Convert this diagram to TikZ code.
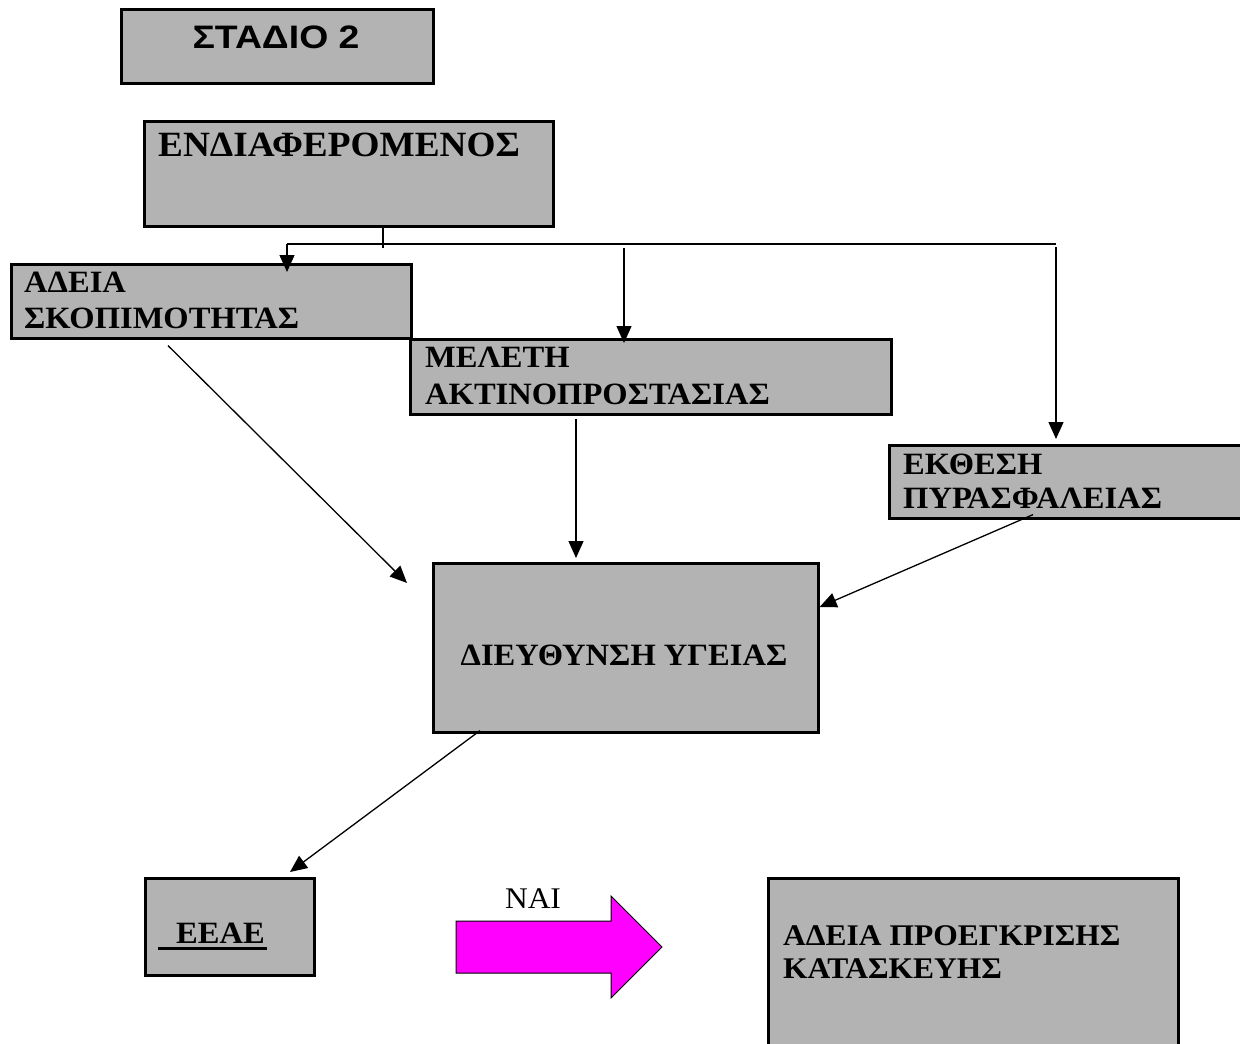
\documentclass[tikz,border=0pt]{standalone}
\usepackage{fontspec}
\setmainfont{Liberation Serif}[FakeStretch=1.05]
\newfontfamily\arialfont{Liberation Sans}[FakeStretch=1.15]
\usepackage{tikz}
\usetikzlibrary{arrows.meta,positioning,calc}
\definecolor{boxgray}{RGB}{179,179,179}
\definecolor{yesmagenta}{RGB}{255,0,255}
\newcommand{\thickul}[1]{\setbox0\hbox{#1}\rlap{\rule[-7pt]{\wd0}{3pt}}\box0}

\begin{document}
\begin{tikzpicture}[x=1pt, y=-1pt,
    box/.style={draw, line width=2.6pt, fill=boxgray, inner sep=0pt, anchor=north west},
    lbl/.style={font=\bfseries\fontsize{31}{36}\selectfont, inner sep=0pt, align=left, anchor=base west},
    arr/.style={-{Triangle[length=17pt,width=15pt]}, line width=1.3pt},
    line/.style={line width=1.3pt}]
    \useasboundingbox (0,0) rectangle (1240,1044);

    % Stage title
    \node[box, minimum width=312pt, minimum height=74pt] (stage) at (120,8) {};
    \node[font=\arialfont\bfseries\fontsize{32.5}{38}\selectfont, inner sep=0pt, anchor=base] (stagetxt) at (276,48) {ΣΤΑΔΙΟ 2};

    % Applicant
    \node[box, minimum width=409pt, minimum height=105pt] (applicant) at (143,120) {};
    \node[lbl, font=\bfseries\fontsize{35.5}{40}\selectfont] (applicanttxt) at (158,156) {ΕΝΔΙΑΦΕΡΟΜΕΝΟΣ};

    % Level 1 - documents (anchor on last baseline)
    \node[box, minimum width=400pt, minimum height=74pt] (purpose) at (10,263) {};
    \node[lbl, font=\bfseries\fontsize{31}{36}\selectfont] (purposetxt) at (24,328) {ΑΔΕΙΑ\\ΣΚΟΠΙΜΟΤΗΤΑΣ};

    \node[box, minimum width=481pt, minimum height=75pt] (study) at (409,338) {};
    \node[lbl, font=\bfseries\fontsize{31}{37}\selectfont] (studytxt) at (425,404) {ΜΕΛΕΤΗ\\ΑΚΤΙΝΟΠΡΟΣΤΑΣΙΑΣ};

    \node[box, minimum width=380pt, minimum height=73pt] (fire) at (888,444) {};
    \node[lbl, font=\bfseries\fontsize{31}{34}\selectfont] (firetxt) at (903,508) {ΕΚΘΕΣΗ\\ΠΥΡΑΣΦΑΛΕΙΑΣ};

    % Level 2 - health directorate
    \node[box, minimum width=385pt, minimum height=169pt] (health) at (432,562) {};
    \node[lbl, anchor=base] (healthtxt) at (624,665) {ΔΙΕΥΘΥΝΣΗ ΥΓΕΙΑΣ};

    % Level 3
    \node[box, minimum width=169pt, minimum height=97pt] (eeae) at (144,877) {};
    \node[lbl] (eeaetxt) at (158,943) {\thickul{\hspace{18pt}ΕΕΑΕ\hspace{2pt}}};

    \node[box, minimum width=410pt, minimum height=200pt] (permit) at (767,877) {};
    \node[lbl, font=\bfseries\fontsize{30}{33}\selectfont] (permittxt) at (783,978) {ΑΔΕΙΑ ΠΡΟΕΓΚΡΙΣΗΣ\\ΚΑΤΑΣΚΕΥΗΣ};

    % Distribution line
    \coordinate (stub) at (383,248);
    \coordinate (busW) at (287,244);
    \coordinate (busE) at (1056,244);
    \coordinate (busM) at (624,248);
    \draw[line] (stub |- applicant.south) -- (stub);
    \draw[line] (busW) -- (busE);
    \draw[arr, shorten >=-9pt] (busW) -- (busW |- purpose.north);
    \draw[arr, shorten >=-5pt] (busM) -- (busM |- study.north);
    \draw[arr, shorten >=5pt] ([yshift=-3pt]busE) -- (busE |- fire.north);

    % Into health directorate
    \draw[arr] ([shift={(158,6)}]purpose.south west) -- ([shift={(-25,21)}]health.north west);
    \draw[arr] ([shift={(167,3)}]study.south west) -- ([shift={(144,-4)}]health.north west);
    \draw[arr] ([shift={(145,-5)}]fire.south west) -- ([shift={(0,45)}]health.north east);
    \draw[arr] ([shift={(48,-3)}]health.south west) -- ([shift={(146,-5)}]eeae.north west);

    % Yes arrow
    \draw[line width=1pt, fill=yesmagenta] (456,921) -- (611,921) -- (611,896) -- (662,947)
        -- (611,998) -- (611,973) -- (456,973) -- cycle;
    \node[font=\fontsize{30}{34}\selectfont, inner sep=0pt, anchor=base] (yes) at (533,908) {ΝΑΙ};
\end{tikzpicture}
\end{document}
